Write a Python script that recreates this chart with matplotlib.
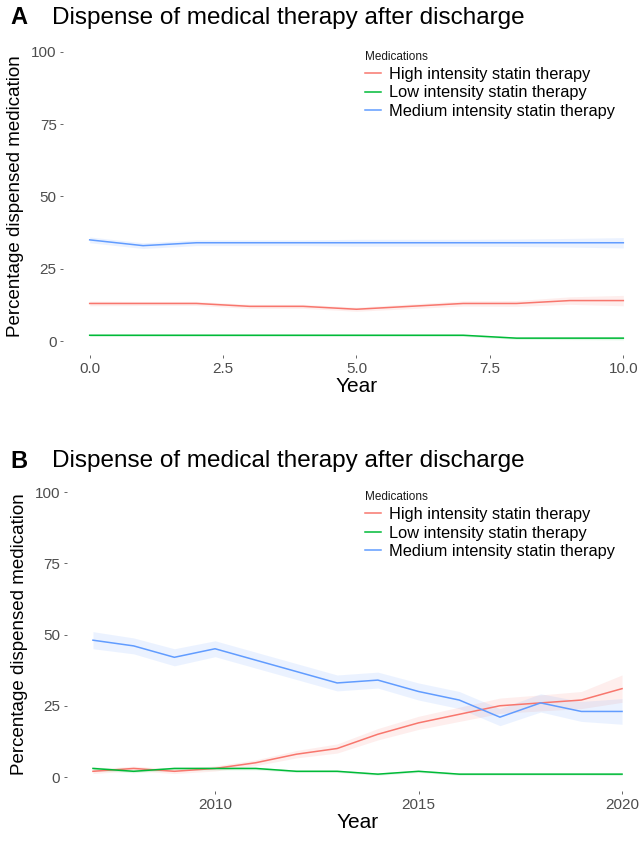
import numpy as np
import matplotlib
matplotlib.use("Agg")
from matplotlib import pyplot as plt

plt.rcParams['font.family'] = ['Liberation Sans', 'DejaVu Sans']

series = ["High intensity statin therapy", "Low intensity statin therapy", "Medium intensity statin therapy"]
colors = ["#F8766D", "#00BA38", "#619CFF"]

# panel A: years after discharge
years_a = [0, 1, 2, 3, 4, 5, 6, 7, 8, 9, 10]
high_a = [13, 13, 13, 12, 12, 11, 12, 13, 13, 14, 14]
low_a = [2, 2, 2, 2, 2, 2, 2, 2, 1, 1, 1]
med_a = [35, 33, 34, 34, 34, 34, 34, 34, 34, 34, 34]
high_a_ci = [0.8, 0.7, 0.7, 0.7, 0.7, 0.7, 0.8, 0.9, 1.0, 1.3, 1.8]
low_a_ci = [0.4, 0.4, 0.4, 0.4, 0.4, 0.4, 0.4, 0.4, 0.4, 0.5, 0.6]
med_a_ci = [1.0, 1.0, 1.0, 1.0, 1.0, 1.2, 1.2, 1.2, 1.3, 1.5, 1.8]

# panel B: calendar year
years_b = [2007, 2008, 2009, 2010, 2011, 2012, 2013, 2014, 2015, 2016, 2017, 2018, 2019, 2020]
high_b = [2, 3, 2, 3, 5, 8, 10, 15, 19, 22, 25, 26, 27, 31]
low_b = [3, 2, 3, 3, 3, 2, 2, 1, 2, 1, 1, 1, 1, 1]
med_b = [48, 46, 42, 45, 41, 37, 33, 34, 30, 27, 21, 26, 23, 23]
high_b_ci = [0.8, 0.8, 0.8, 0.9, 1.0, 1.3, 1.6, 2.0, 2.3, 2.5, 2.7, 2.8, 3.0, 4.8]
low_b_ci = [0.6, 0.5, 0.5, 0.5, 0.5, 0.4, 0.4, 0.4, 0.4, 0.4, 0.4, 0.4, 0.4, 0.5]
med_b_ci = [3.0, 2.8, 3.0, 2.8, 2.8, 2.8, 2.8, 2.8, 3.0, 3.0, 3.0, 3.2, 3.5, 4.5]

W, H = 641, 863
fig = plt.figure(figsize=(W / 100, H / 100), dpi=100)


def px_axes(left, top, right, bottom):
    return fig.add_axes([left / W, 1 - bottom / H, (right - left) / W, (bottom - top) / H])


def panel(ax, x, ys, cis, xlim, xticks, xticklabels, letter, letter_y):
    for y, ci, c, name in zip(ys, cis, colors, series):
        y = np.array(y, dtype=float)
        ci = np.array(ci, dtype=float)
        ax.fill_between(x, y - ci, y + ci, color=c, alpha=0.12, lw=0)
        ax.plot(x, y, color=c, lw=1.1, label=name)
    ax.set_xlim(*xlim)
    ax.set_ylim(-5, 105)
    ax.set_yticks([0, 25, 50, 75, 100])
    ax.set_xticks(xticks)
    ax.set_xticklabels(xticklabels)
    for s in ax.spines.values():
        s.set_visible(False)
    ax.tick_params(colors="#4D4D4D", labelsize=11, length=2.5, width=0.6, pad=2)
    ax.set_xlabel("Year", fontsize=15, labelpad=1)
    ax.set_ylabel("Percentage dispensed medication", fontsize=13.5, labelpad=5)
    # legend title + entries sit in the upper right of the panel
    pos = ax.get_position()
    anchor_x = (363 - pos.x0 * W) / (pos.width * W)
    anchor_y = 1 - 12 / (pos.height * H)
    leg = ax.legend(title="Medications", loc="upper left", bbox_to_anchor=(anchor_x, anchor_y),
                    frameon=False, fontsize=11.8, title_fontsize=8.5, alignment="left",
                    borderaxespad=0, borderpad=0.1, handlelength=1.0, handletextpad=0.5,
                    labelspacing=0.22)
    leg.get_title().set_color("#1A1A1A")
    for line in leg.get_lines():
        line.set_linewidth(1.1)
    fig.text(10 / W, 1 - letter_y / H, letter, fontsize=17, fontweight="bold", va="center")
    fig.text(52 / W, 1 - letter_y / H, "Dispense of medical therapy after discharge",
             fontsize=17.5, va="center")


ax1 = px_axes(63, 37.5, 650, 355.5)
panel(ax1, years_a, [high_a, low_a, med_a], [high_a_ci, low_a_ci, med_a_ci],
      (-0.5, 10.5), [0, 2.5, 5, 7.5, 10], ["0.0", "2.5", "5.0", "7.5", "10.0"], "A", 18)

ax2 = px_axes(66.5, 477.75, 648.5, 791.25)
panel(ax2, years_b, [high_b, low_b, med_b], [high_b_ci, low_b_ci, med_b_ci],
      (2006.35, 2020.65), [2010, 2015, 2020], ["2010", "2015", "2020"], "B", 461)

fig.savefig("out.png", dpi=100)
